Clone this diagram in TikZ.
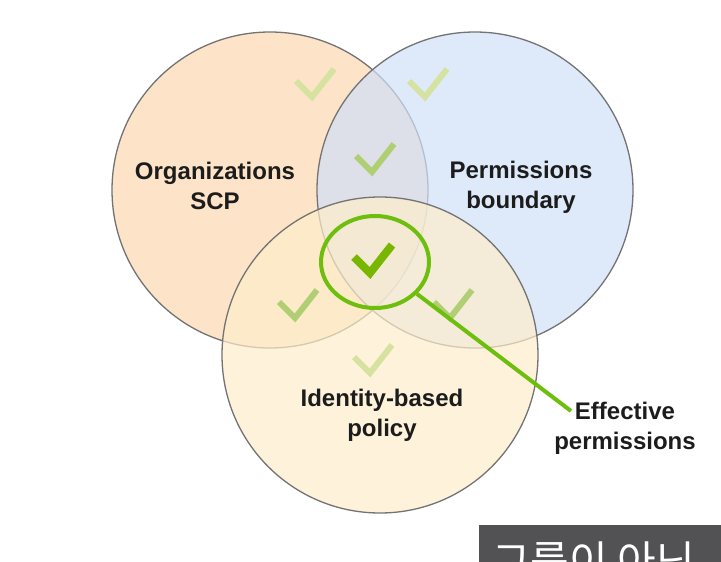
\documentclass[tikz,border=0pt]{standalone}
\usepackage{fontspec}
\setmainfont{Liberation Sans}
\newfontfamily\krfont{Noto Sans CJK KR}
\usepackage{xcolor}
\usetikzlibrary{shapes.geometric}

\definecolor{scpfill}{RGB}{253,227,200}
\definecolor{pbfill}{RGB}{208,224,248}
\definecolor{idfill}{RGB}{254,238,202}
\definecolor{ringgreen}{RGB}{110,190,14}
\definecolor{tickpale}{RGB}{214,226,160}
\definecolor{tickmid}{RGB}{176,207,116}
\definecolor{tickbold}{RGB}{120,182,0}
\definecolor{textdark}{RGB}{28,28,28}
\definecolor{capfill}{RGB}{82,82,84}

\tikzset{
  pics/checkmark/.style={code={\draw[line join=miter] (-16,-16) -- (0,0) -- (22,-28);}}
}

\begin{document}
\begin{tikzpicture}[
  x=1pt, y=-1pt,
  venn/.style={draw=black!55, line width=1.3pt, circle, minimum size=316pt, inner sep=0pt},
  setname/.style={align=center, text=textdark, font=\fontsize{24}{30}\selectfont\bfseries},
  ring/.style={draw=ringgreen, line width=4pt, ellipse, minimum width=108pt, minimum height=92pt},
  callout/.style={draw=ringgreen, line width=4pt}
]
\useasboundingbox (0,0) rectangle (721,562);

% the three policy sets
\node[venn, fill=scpfill] (scpset) at (270,190) {};
\node[venn, fill=pbfill, fill opacity=0.7] (pbset) at (475,190) {};
\node[venn, fill=idfill, fill opacity=0.7] (idset) at (380,355) {};

% ticks in every region
\pic[color=tickpale, line width=6pt] at (312,97) {checkmark};
\pic[color=tickpale, line width=6pt] at (425,97) {checkmark};
\pic[color=tickmid, line width=6pt] at (372,172) {checkmark};
\pic[color=tickmid, line width=6pt] at (295,318) {checkmark};
\pic[color=tickmid, line width=6pt] at (450,318) {checkmark};
\pic[color=tickpale, line width=6pt] at (370,373) {checkmark};
\pic[color=tickbold, line width=8pt] at (370,273) {checkmark};

\node[setname] (scp) at (215,186) {Organizations\\SCP};
\node[setname] (pb) at (521,187) {Permissions\\boundary};
\node[setname] (idp) at (382,415) {Identity-based\\policy};
\node[setname] (eff) at (625,428) {Effective\\permissions};

% effective permissions zone
\node[ring] (zone) at (375,262) {};
\coordinate (tip) at (571,411);
\draw[callout] (zone) -- (tip);

% subtitle strip
\fill[capfill] (479,525) rectangle (740,590);
\node[anchor=base west, inner sep=0pt, text=white, font=\krfont\fontsize{42}{50}\selectfont] (caption) at (492,576) {그룹이 아닌};

\end{tikzpicture}
\end{document}
